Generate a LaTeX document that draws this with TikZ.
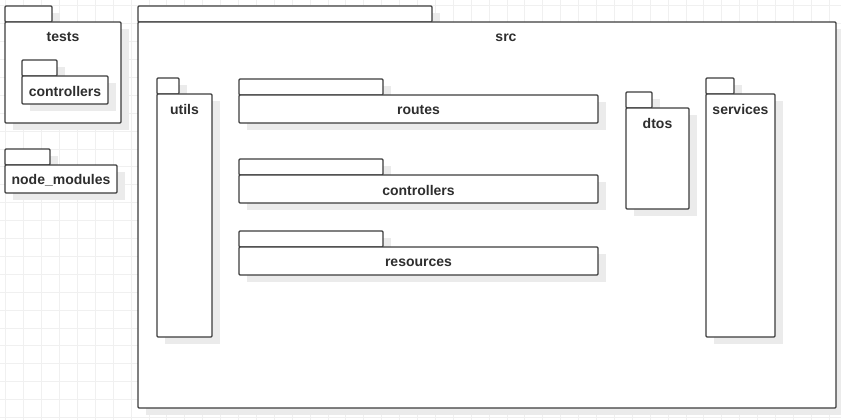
\documentclass[tikz,border=0pt]{standalone}
\usepackage{fontspec}
\setmainfont{Liberation Sans}
\definecolor{gridc}{HTML}{F0F0F0}
\definecolor{shadowc}{HTML}{EBEBEB}
\definecolor{linec}{HTML}{3C3C3C}
\definecolor{textc}{HTML}{2E2E2E}
\tikzset{
  pkgline/.style={draw=linec, fill=white, line width=1.3pt, rounded corners=1pt},
  pkgshadow/.style={fill=shadowc},
  pkglabel/.style={text=textc, font=\fontsize{14}{16}\selectfont\bfseries, inner sep=0pt},
  gridline/.style={draw=gridc, line width=0.8pt}
}
\newcommand\umlpkg[9]{%
  \fill[pkgshadow] (#2+8,#3+7) rectangle (#4+8,#5+7);
  \fill[pkgshadow] (#2+8,#5+7) rectangle (#6+8,#7+7);
  \draw[pkgline] (#2,#3) rectangle (#4,#5);
  \draw[pkgline] (#2,#5) rectangle (#6,#7);
  \node[pkglabel] (#1) at (#8,#5+15.5) {#9};
}
\begin{document}
\begin{tikzpicture}[x=1pt,y=-1pt]
\useasboundingbox (0,0) rectangle (841,420);
\fill[white] (0,0) rectangle (841,420);
\foreach \gx in {5.7,23.6,...,841} \draw[gridline] (\gx,0) -- (\gx,420);
\foreach \gy in {5.7,23.6,...,420} \draw[gridline] (0,\gy) -- (841,\gy);
% tests
\umlpkg{tests}{5}{6}{52}{22}{121}{123}{63}{tests}
\umlpkg{testctrl}{22}{60}{57}{76}{108}{104}{65}{controllers}
% node_modules
\umlpkg{nodemod}{5}{149}{50}{165}{117}{193}{61}{node\_modules}
% src
\umlpkg{src}{138}{6}{432}{22}{836}{408}{506}{src}
\umlpkg{utils}{157}{78}{179}{94}{212}{337}{184.5}{utils}
\umlpkg{routes}{239}{79}{383}{95}{598}{123}{418.5}{routes}
\umlpkg{controllers}{239}{159}{383}{175}{598}{203}{418.5}{controllers}
\umlpkg{resources}{239}{231}{383}{247}{598}{275}{418.5}{resources}
\umlpkg{dtos}{626}{92}{652}{108}{689}{209}{657.5}{dtos}
\umlpkg{services}{706}{78}{734}{94}{775}{337}{740.5}{services}
\end{tikzpicture}
\end{document}
